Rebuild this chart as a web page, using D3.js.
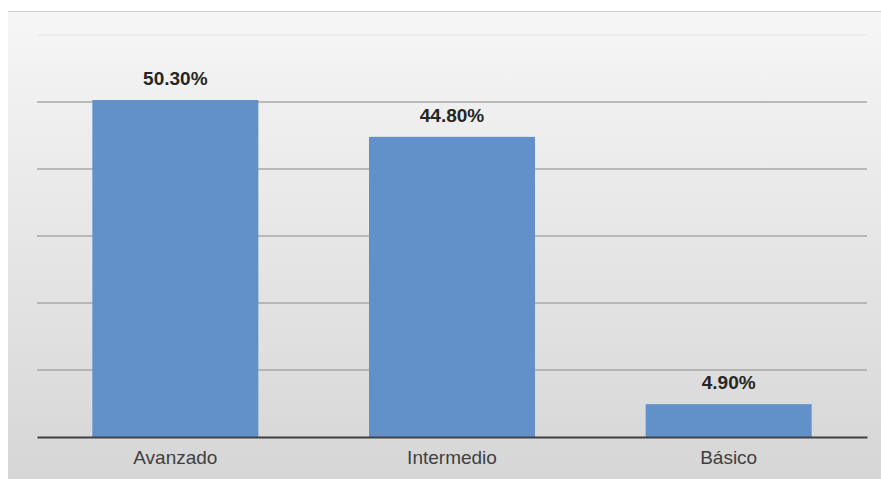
<!DOCTYPE html>
<html>
<head>
<meta charset="utf-8">
<script src="https://cdn.jsdelivr.net/npm/d3@7"></script>
<style>
  body { margin: 0; background: #fff; }
  svg { display: block; }
</style>
</head>
<body>
<div id="chart"></div>
<script>
// Data
const categories = ["Avanzado", "Intermedio", "Básico"]
const values = [50.3, 44.8, 4.9]
const gridTicks = [0, 10, 20, 30, 40, 50, 60]

const width = 881
const height = 479
const margin = { left: 37, right: 14, top: 35, bottom: 42 }

const svg = d3.select("#chart")
              .append("svg")
              .attr("width", width)
              .attr("height", height)

// Background gradient of the chart area
const defs = svg.append("defs")
const grad = defs.append("linearGradient")
                 .attr("id", "bg")
                 .attr("x1", 0).attr("y1", 0)
                 .attr("x2", 0).attr("y2", 1)
grad.append("stop").attr("offset", "0%").attr("stop-color", "#f6f6f6")
grad.append("stop").attr("offset", "100%").attr("stop-color", "#d6d6d6")

svg.append("rect")
   .attr("x", 8)
   .attr("y", 11)
   .attr("width", width - 8)
   .attr("height", height - 11)
   .attr("fill", "url(#bg)")

// top edge of the frame
svg.append("line")
   .attr("x1", 8).attr("x2", width)
   .attr("y1", 11.5).attr("y2", 11.5)
   .attr("stroke", "#d0d0d0")

// Scales
const x = d3.scaleBand()
            .domain(categories)
            .range([margin.left, width - margin.right])
            .paddingInner(0.4)
            .paddingOuter(0.2)

const y = d3.scaleLinear()
            .domain([0, 60])
            .range([height - margin.bottom, margin.top])

// Gridlines
svg.append("g")
   .selectAll("line")
   .data(gridTicks.filter(d => d > 0))
   .enter()
   .append("line")
   .attr("x1", margin.left)
   .attr("x2", width - margin.right)
   .attr("y1", d => y(d))
   .attr("y2", d => y(d))
   .attr("stroke", d => d === 60 ? "#ebebeb" : "#a9a9a9")
   .attr("stroke-width", 1.5)

// Bars
svg.append("g")
   .selectAll("rect")
   .data(values)
   .enter()
   .append("rect")
   .attr("x", (d, i) => x(categories[i]))
   .attr("y", d => y(d))
   .attr("width", x.bandwidth())
   .attr("height", d => y(0) - y(d))
   .attr("fill", "#6290c8")

// Value labels
svg.append("g")
   .selectAll("text")
   .data(values)
   .enter()
   .append("text")
   .attr("x", (d, i) => x(categories[i]) + x.bandwidth() / 2)
   .attr("y", d => y(d) - 15)
   .attr("text-anchor", "middle")
   .attr("font-family", "Liberation Sans, Arial, sans-serif")
   .attr("font-weight", "bold")
   .attr("font-size", "19px")
   .attr("fill", "#262626")
   .text(d => d3.format(".2f")(d) + "%")

// Category axis
const xAxis = d3.axisBottom(x).tickSize(0).tickPadding(14)
const gx = svg.append("g")
              .attr("transform", `translate(0,${y(0)})`)
              .call(xAxis)
gx.select(".domain")
  .attr("stroke", "#404040")
  .attr("stroke-width", 2)
gx.selectAll("text")
  .attr("font-family", "Liberation Sans, Arial, sans-serif")
  .attr("font-size", "19px")
  .attr("fill", "#404040")
</script>
</body>
</html>
